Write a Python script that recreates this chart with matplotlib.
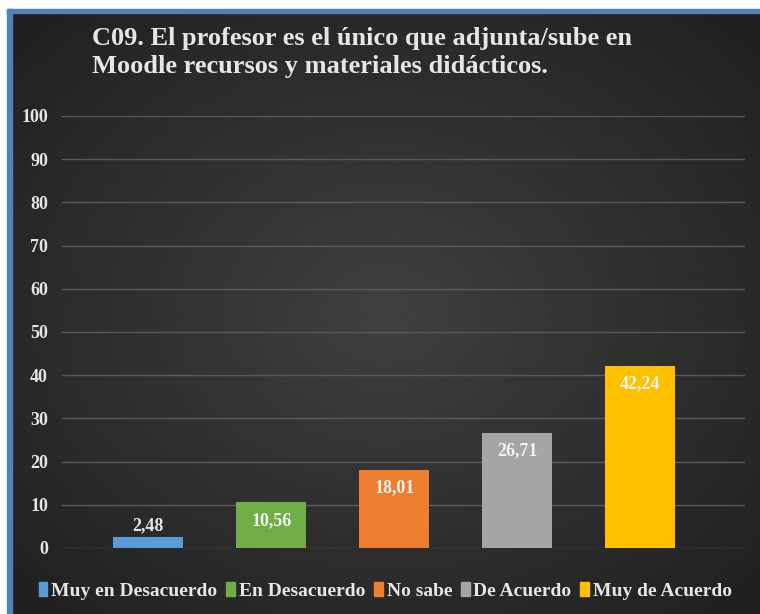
import numpy as np
import matplotlib.pyplot as plt
from matplotlib.patches import Rectangle

categories = ["Muy en Desacuerdo", "En Desacuerdo", "No sabe", "De Acuerdo", "Muy de Acuerdo"]
values = [2.48, 10.56, 18.01, 26.71, 42.24]
labels = ["2,48", "10,56", "18,01", "26,71", "42,24"]
colors = ["#5B9BD5", "#70AD47", "#ED7D31", "#A5A5A5", "#FFC000"]

title = ("C09. El profesor es el único que adjunta/sube en\n"
         "Moodle recursos y materiales didácticos.")

serif = ["Liberation Serif", "DejaVu Serif"]
txt = "#e6e6e6"

fig = plt.figure(figsize=(7.6, 6.14), dpi=100, facecolor="white")

# dark panel with a soft radial gradient, framed by a blue border
bg = fig.add_axes([12 / 760, 0, 1 - 12 / 760, 1 - 13 / 614])
yy, xx = np.mgrid[-1:1:300j, -1:1:300j]
r = np.sqrt(xx ** 2 + yy ** 2)
bg.imshow(0.25 - 0.09 * r, cmap="gray", vmin=0, vmax=1, aspect="auto",
          extent=[0, 1, 0, 1])
bg.set_axis_off()
fig.patches.append(Rectangle((7 / 760, 0), 5 / 760, 1 - 9 / 614,
                             transform=fig.transFigure, color="#4F81BD"))
fig.patches.append(Rectangle((7 / 760, 1 - 13 / 614), 1, 4 / 614,
                             transform=fig.transFigure, color="#4F81BD"))

ax = fig.add_axes([62 / 760, 1 - 548 / 614, (745 - 62) / 760, (548 - 116) / 614])
ax.patch.set_alpha(0)
x = np.arange(len(categories))
bars = ax.bar(x, values, width=0.57, color=colors, zorder=3)

ax.set_ylim(0, 100)
ax.set_xlim(-0.7, 4.85)
ax.set_yticks(range(0, 101, 10))
ax.set_xticks([])
ax.grid(axis="y", color="#5a5a5a", linewidth=1, zorder=0)
for s in ax.spines.values():
    s.set_visible(False)
ax.tick_params(axis="y", length=0, pad=10, labelcolor=txt)
for t in ax.get_yticklabels():
    t.set_fontfamily(serif)
    t.set_fontweight("bold")
    t.set_fontsize(13)

for i, (v, lab) in enumerate(zip(values, labels)):
    if v < 5:
        ax.text(i, v + 0.8, lab, ha="center", va="bottom", color=txt,
                fontsize=13, fontweight="bold", family=serif)
    else:
        ax.text(i, v - 2.2, lab, ha="center", va="top", color="#f2f2f2",
                fontsize=13, fontweight="bold", family=serif)

fig.text(92 / 760, 1 - 27 / 614, title, ha="left", va="top", color=txt,
         fontsize=19, fontweight="bold", family=serif, linespacing=1.3)

handles = [Rectangle((0, 0), 1, 1, color=c) for c in colors]
fig.legend(handles, categories, loc="center", bbox_to_anchor=(0.507, 1 - 591 / 614),
           ncol=5, frameon=False, handlelength=0.45, handleheight=0.7,
           handletextpad=0.2, columnspacing=0.45,
           prop={"family": serif, "weight": "bold", "size": 14},
           labelcolor=txt)

fig.savefig("out.png", dpi=100)
